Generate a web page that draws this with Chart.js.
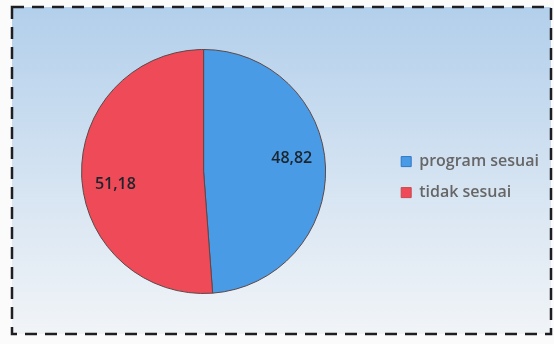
<!DOCTYPE html>
<html>
<head>
<meta charset="utf-8">
<script src="https://cdn.jsdelivr.net/npm/chart.js@4.4.1/dist/chart.umd.min.js"></script>
<style>
  html, body { margin: 0; padding: 0; background: #fbfbfb; }
  #wrap { width: 554px; height: 344px; position: relative; }
</style>
</head>
<body>
<div id="wrap"><canvas id="c" width="554" height="344"></canvas></div>
<script>
// values
const labels = ['program sesuai', 'tidak sesuai'];
const values = [48.82, 51.18];
const valueText = ['48,82', '51,18'];
const colorsInner = ['#4a9be6', '#ee4a58'];
const colorsOuter = ['#2f78c6', '#c8484c'];

const textFont = '"Open Sans", Lato, sans-serif';

// dashed frame + blue gradient backdrop, drawn under everything
const backdrop = {
    id: 'backdrop',
    beforeDraw(chart) {
        const ctx = chart.ctx;
        const x0 = 12, y0 = 7, x1 = 551, y1 = 334;
        ctx.save();
        let g = ctx.createLinearGradient(0, y0, 0, y1);
        g.addColorStop(0, '#b2cfeb');
        g.addColorStop(0.55, '#d6e4f2');
        g.addColorStop(1, '#f1f4f7');
        ctx.fillStyle = g;
        ctx.fillRect(x0, y0, x1 - x0, y1 - y0);
        ctx.setLineDash([12, 8]);
        ctx.lineWidth = 2.5;
        ctx.strokeStyle = '#1e1e22';
        ctx.strokeRect(x0, y0, x1 - x0, y1 - y0);
        ctx.restore();
    }
};

// value labels inside the slices (nudged a little counter-clockwise, like the original)
const sliceText = {
    id: 'sliceText',
    afterDatasetsDraw(chart) {
        const ctx = chart.ctx;
        const meta = chart.getDatasetMeta(0);
        ctx.save();
        ctx.font = '600 16px ' + textFont;
        ctx.fillStyle = '#1c252d';
        ctx.textAlign = 'center';
        ctx.textBaseline = 'middle';
        meta.data.forEach((arc, i) => {
            const p = arc.getProps(['x', 'y', 'startAngle', 'endAngle', 'outerRadius']);
            const mid = (p.startAngle + p.endAngle) / 2 - 6 * Math.PI / 180;
            const r = p.outerRadius * 0.73;
            ctx.fillText(valueText[i], p.x + Math.cos(mid) * r, p.y + Math.sin(mid) * r);
        });
        ctx.restore();
    }
};

function sliceFill(context) {
    const chart = context.chart;
    const arc = chart.getDatasetMeta(0).data[context.dataIndex];
    if (!arc || !arc.outerRadius) return colorsInner[context.dataIndex];
    const g = chart.ctx.createRadialGradient(arc.x, arc.y - arc.outerRadius * 0.2, 0, arc.x, arc.y, arc.outerRadius);
    g.addColorStop(0, colorsInner[context.dataIndex]);
    g.addColorStop(0.85, colorsInner[context.dataIndex]);
    g.addColorStop(1, colorsOuter[context.dataIndex]);
    return g;
}

new Chart(document.getElementById('c'), {
    type: 'pie',
    data: {
        labels: labels,
        datasets: [{
            data: values,
            backgroundColor: sliceFill,
            borderColor: '#5e4848',
            borderWidth: 1
        }]
    },
    options: {
        responsive: false,
        animation: false,
        layout: { padding: { left: 21, top: 49, bottom: 50, right: 5 } },
        plugins: {
            tooltip: { enabled: false },
            legend: {
                position: 'right',
                title: { display: true, text: ' ', font: { size: 6 }, padding: 2 },
                labels: {
                    boxWidth: 10,
                    boxHeight: 10,
                    padding: 15,
                    color: '#1a1d21',
                    font: { family: textFont, size: 16, weight: '600' },
                    generateLabels(chart) {
                        return labels.map((t, i) => ({
                            text: t,
                            fillStyle: colorsInner[i],
                            strokeStyle: colorsOuter[i],
                            lineWidth: 1,
                            index: i
                        }));
                    }
                }
            }
        }
    },
    plugins: [backdrop, sliceText]
});
</script>
</body>
</html>
